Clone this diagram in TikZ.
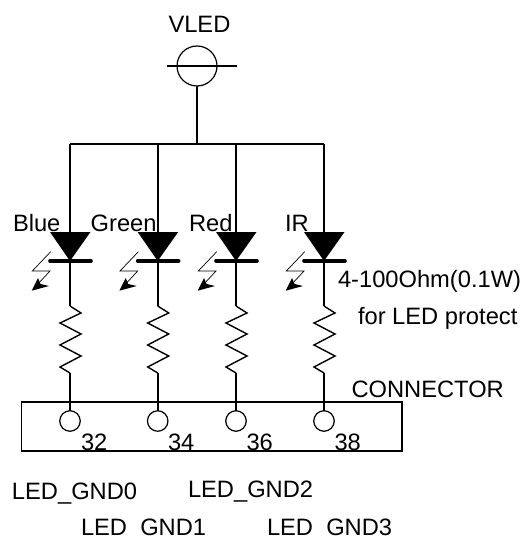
\documentclass[tikz,border=0pt]{standalone}
\usepackage{fontspec}
\setmainfont{Liberation Sans}
\begin{document}
\begin{tikzpicture}[x=1pt,y=-1pt,line join=miter,
  wire/.style={draw=black,line width=1.7pt},
  label/.style={anchor=base west,inner sep=0pt,outer sep=0pt,font=\fontsize{23.7pt}{26pt}\selectfont,text=black},
  pin/.style={circle,draw=black,line width=1.2pt,minimum size=20.5pt,inner sep=0pt,outer sep=0pt}]
\useasboundingbox (0,0) rectangle (526,537);
% supply
\node[circle,draw=black,line width=1.2pt,minimum size=40pt,inner sep=0pt,outer sep=0pt] (vc) at (197,66) {};
\coordinate (vl) at (167,66);
\coordinate (vr) at (237,66);
\draw[wire,line width=1.4pt] (vl) -- (vr);
\coordinate (bv) at (197,144);
\coordinate (bl) at (70,144);
\coordinate (br) at (324,144);
\draw[wire] (vc.south) -- (bv);
\draw[wire] (bl) -- (br);
% connector
\node[draw=black,line width=1.4pt,minimum width=380.5pt,minimum height=49pt,inner sep=0pt,outer sep=0pt] (conn) at (211.75,426.5) {};
% four LED branches
\foreach \n/\X in {a/70,b/157.7,c/236,d/324}{
  \begin{scope}[shift={(\X,0)}]
    \coordinate (top\n) at (0,144);
    \coordinate (cath\n) at (0,261);
    \coordinate (rt\n) at (0,306);
    \coordinate (rb\n) at (0,373);
    \node[pin] (pin\n) at (0,421) {};
    \draw[wire] (top\n) -- (cath\n);
    \fill[black] (-20,232) -- (20.5,232) -- (0,261) -- cycle;
    \draw[line width=3.6pt,line cap=round] (-20,261) -- (21,261);
    \draw[wire] (cath\n) -- (rt\n);
    \draw[wire,line width=1.4pt] (rt\n) -- (11,313) -- (-10,323) -- (11,334) -- (-10,345) -- (11,356) -- (-10,367) -- (rb\n);
    \draw[wire] (rb\n) -- (pin\n.north);
    % light arrow
    \draw[line width=0.7pt] (-19.3,251.7) -- (-37.7,271) -- (-20,271) -- (-33,285);
    \fill[black] (-38.3,290.7) -- (-32,278) -- (-29.5,284) -- (-21,286) -- cycle;
  \end{scope}
}
% texts
\node[label] (tv) at (168.5,33) {VLED};
\node[label] (t1) at (13,231) {Blue};
\node[label] (t2) at (90.7,231) {Green};
\node[label] (t3) at (189,231) {Red};
\node[label] (t4) at (285,231) {IR};
\node[label] (t5) at (338,287) {4-100Ohm(0.1W)};
\node[label] (t6) at (358,324) {for LED protect};
\node[label] (t7) at (351.5,397) {CONNECTOR};
\node[label] (n1) at (81,450) {32};
\node[label] (n2) at (168,450) {34};
\node[label] (n3) at (246.5,450) {36};
\node[label] (n4) at (334.5,450) {38};
\node[label] (g0) at (12,499) {LED\_GND0};
\node[label] (g2) at (188,497) {LED\_GND2};
\node[label] (g1) at (81,535.5) {LED\_GND1};
\node[label] (g3) at (267,535.5) {LED\_GND3};
\end{tikzpicture}
\end{document}
